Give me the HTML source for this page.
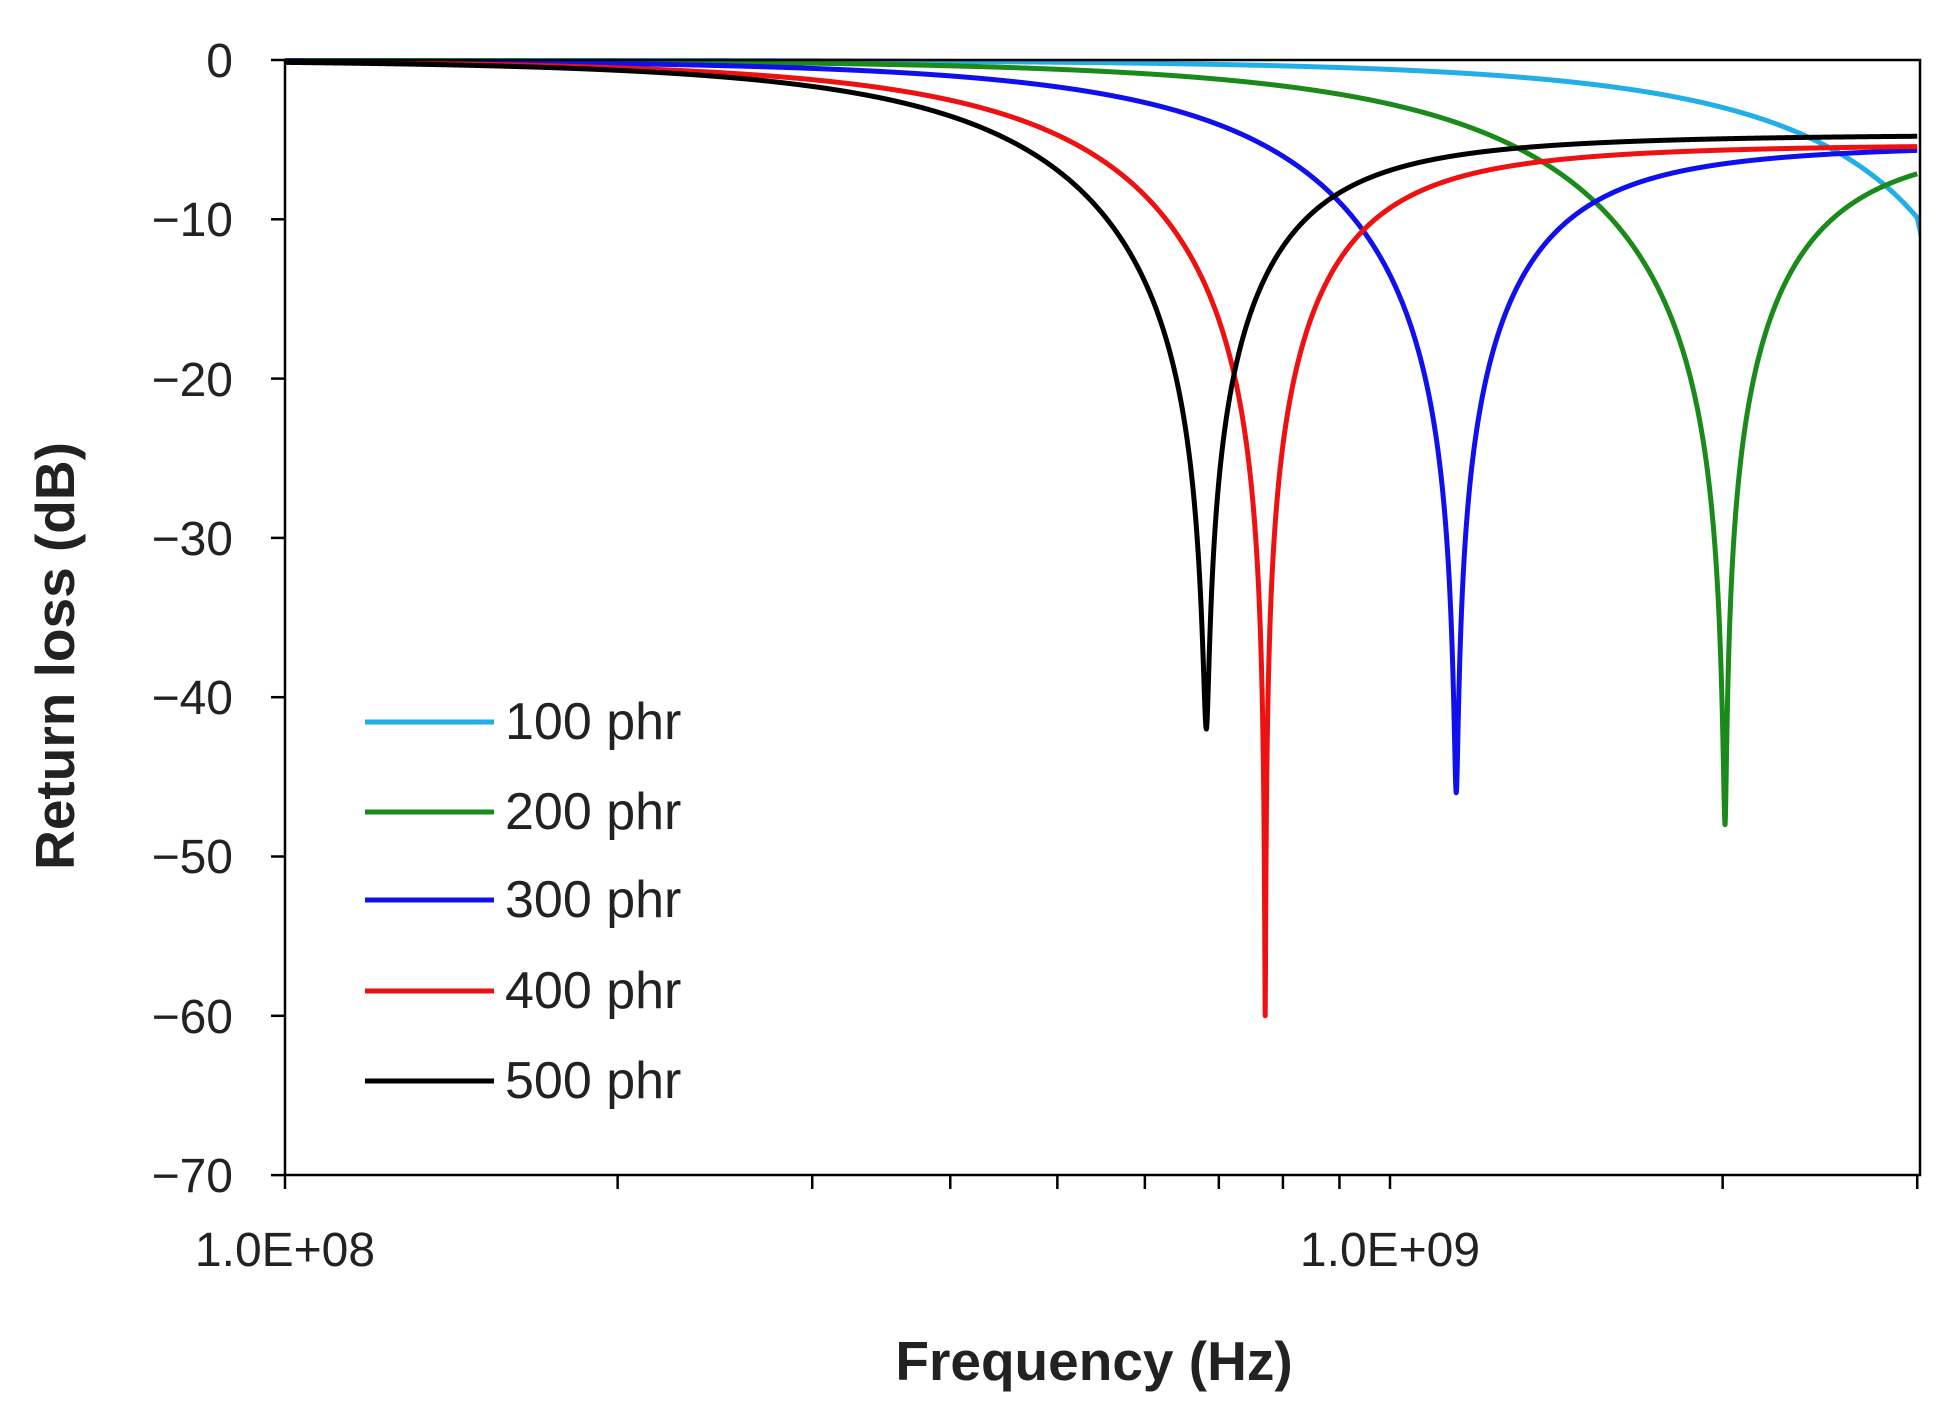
<!DOCTYPE html>
<html><head><meta charset="utf-8"><style>
html,body{margin:0;padding:0;background:#fff;}
svg{display:block;font-family:"Liberation Sans",sans-serif;}
</style></head><body>
<svg id="s" width="1951" height="1405" viewBox="0 0 1951 1405" xmlns="http://www.w3.org/2000/svg">
<defs><clipPath id="c"><rect x="285" y="58" width="1635" height="1117"/></clipPath></defs>
<g id="curves" clip-path="url(#c)"></g>
<rect x="285" y="60" width="1635" height="1115" fill="none" stroke="#000" stroke-width="2.5"/>
<g id="ticks" stroke="#000" stroke-width="2.5"></g>
<g font-size="48" fill="#222" text-anchor="end">
<text x="233" y="77">0</text>
<text x="233" y="236">−10</text>
<text x="233" y="396">−20</text>
<text x="233" y="555">−30</text>
<text x="233" y="714">−40</text>
<text x="233" y="873">−50</text>
<text x="233" y="1033">−60</text>
<text x="233" y="1192">−70</text>
</g>
<g font-size="48" fill="#222" text-anchor="middle">
<text x="285" y="1266">1.0E+08</text>
<text x="1390" y="1266">1.0E+09</text>
</g>
<text x="1094" y="1380" font-size="55" font-weight="bold" text-anchor="middle" fill="#222">Frequency (Hz)</text>
<text transform="translate(74,656) rotate(-90)" font-size="55" font-weight="bold" text-anchor="middle" fill="#222">Return loss (dB)</text>
<g stroke-width="5">
<line x1="365" y1="722" x2="494" y2="722" stroke="#22aee6"/>
<line x1="365" y1="812" x2="494" y2="812" stroke="#1a8a1a"/>
<line x1="365" y1="900" x2="494" y2="900" stroke="#1010ee"/>
<line x1="365" y1="991" x2="494" y2="991" stroke="#ee1111"/>
<line x1="365" y1="1081" x2="494" y2="1081" stroke="#000"/>
</g>
<g font-size="52" fill="#222">
<text x="505" y="739">100 phr</text>
<text x="505" y="829">200 phr</text>
<text x="505" y="917">300 phr</text>
<text x="505" y="1008">400 phr</text>
<text x="505" y="1098">500 phr</text>
</g>
</svg>
<script>
var X0=285,DEC=1105,Y0=60,PER=159.3;
function px(f){return X0+DEC*Math.log10(f/1e8);}
function py(d){return Y0-d/10*PER;}
var t=document.getElementById('ticks'),h='';
for(var i=0;i<=7;i++){var y=Y0+i*PER;h+='<line x1="271" y1="'+y+'" x2="285" y2="'+y+'"/>';}
[1e8,2e8,3e8,4e8,5e8,6e8,7e8,8e8,9e8,1e9,2e9,3e9].forEach(function(f){var x=px(f);h+='<line x1="'+x+'" y1="1175" x2="'+x+'" y2="1189"/>';});
t.innerHTML=h;
var S=[
 {c:"#22aee6",f0:3.75e9,d:40,Q:0.75,Qh:1.5,P:0.66},
 {c:"#1a8a1a",f0:2.01e9,d:48,Q:0.7,Qh:1.5,P:0.68},
 {c:"#1010ee",f0:1.148e9,d:46,Q:0.78,Qh:1.5,P:0.705},
 {c:"#ee1111",f0:7.71e8,d:60,Q:0.8,Qh:1.55,P:0.705},
 {c:"#000000",f0:6.82e8,d:42,Q:0.8,Qh:1.55,P:0.66}
];
var g='';
S.forEach(function(s){
 var Am=1-Math.pow(10,-s.d/10),fs=[];
 for(var i=0;i<=6000;i++){fs.push(Math.pow(10,8+i/6000*Math.log10(30)));}
 fs.push(s.f0);fs.sort(function(a,b){return a-b;});
 var pts=fs.map(function(f){
  var x=f/s.f0,v=x-1/x,A,u;
  if(x<1){u=s.Q*v;A=Am/(1+u*u);}
  else{u=s.Qh*v;A=s.P+(Am-s.P)/(1+u*u);}
  var d=10*Math.log10(Math.max(1-A,1e-9));
  return px(f).toFixed(2)+','+py(d).toFixed(2);
 });
 g+='<polyline fill="none" stroke="'+s.c+'" stroke-width="5" stroke-linejoin="round" points="'+pts.join(' ')+'"/>';
});
document.getElementById('curves').innerHTML=g;
</script>
</body></html>
